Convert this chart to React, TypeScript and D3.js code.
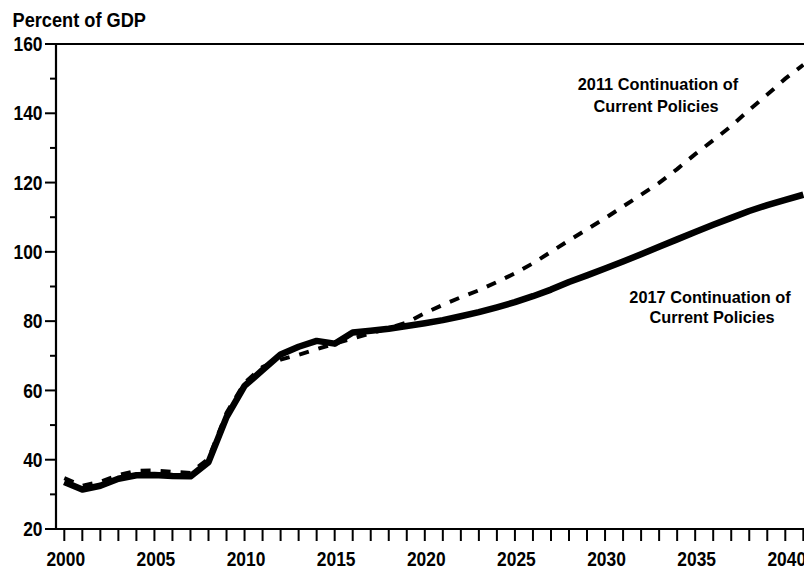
import React from "react";
import * as d3 from "d3";

const years: number[] = d3.range(2000, 2042);

// 2017 Continuation of Current Policies (solid)
const policies2017: number[] = [
  33.6, 31.4, 32.5, 34.5, 35.5, 35.6, 35.3, 35.2, 39.3, 52.3,
  61.3, 65.9, 70.4, 72.6, 74.3, 73.5, 76.7, 77.2, 77.8, 78.6,
  79.4, 80.3, 81.4, 82.6, 84.0, 85.5, 87.2, 89.1, 91.3, 93.2,
  95.2, 97.2, 99.3, 101.5, 103.6, 105.7, 107.8, 109.8, 111.8, 113.5,
  115.0, 116.5,
];

// 2011 Continuation of Current Policies (dashed)
const policies2011: number[] = [
  34.7, 32.5, 33.6, 35.6, 36.8, 36.9, 36.5, 36.2, 40.3, 53.5,
  62.2, 66.8, 68.9, 70.3, 71.9, 73.5, 75.0, 76.5, 78.0, 79.6,
  82.3, 84.7, 86.9, 88.9, 91.3, 93.8, 96.7, 100.0, 103.3, 106.5,
  109.7, 113.1, 116.5, 119.9, 123.9, 128.2, 132.2, 136.3, 141.0, 145.4,
  150.0, 154.0,
];

const yMajorTicks: number[] = [20, 40, 60, 80, 100, 120, 140, 160];
const yMinorTicks: number[] = [30, 50, 70, 90, 110, 130, 150];
const xLabelTicks: number[] = [2000, 2005, 2010, 2015, 2020, 2025, 2030, 2035, 2040];
const xTicks: number[] = d3.range(2000, 2042);

const yAxisTitle = "Percent of GDP";
const label2011 = ["2011 Continuation of", "Current Policies"];
const label2017 = ["2017 Continuation of", "Current Policies"];

const W = 804;
const H = 571;
const FONT = "'Liberation Sans', Arial, sans-serif";

function NText(props: {
  x: number;
  y: number;
  sx: number;
  size: number;
  anchor?: string;
  children: React.ReactNode;
}) {
  const { x, y, sx, size, anchor, children } = props;
  return (
    <text
      transform={`translate(${x},${y}) scale(${sx},1)`}
      textAnchor={anchor || "start"}
      fontSize={size}
      fill="#000"
    >
      {children}
    </text>
  );
}

export default function App() {
  const x = d3.scaleLinear().domain([2000, 2040]).range([64.3, 785.3]);
  const y = d3.scaleLinear().domain([20, 160]).range([529, 44]);
  const left = 56;
  const top = y(160);
  const bottom = y(20);

  const line = d3
    .line<number>()
    .x((_, i) => x(years[i]))
    .y((d) => y(d));

  return (
    <svg
      width={W}
      height={H}
      viewBox={`0 0 ${W} ${H}`}
      style={{ position: "absolute", left: 0, top: 0, background: "#fff" }}
      fontFamily={FONT}
      fontWeight="bold"
    >
      <defs>
        <clipPath id="plot">
          <rect x={left} y={top - 4} width={W - left} height={bottom - top + 4} />
        </clipPath>
      </defs>

      {/* y axis title */}
      <NText x={12.5} y={26.5} sx={0.91} size={20}>
        {yAxisTitle}
      </NText>

      {/* frame */}
      <line x1={left} y1={top} x2={W} y2={top} stroke="#000" strokeWidth={2} />
      <line x1={left} y1={top - 1} x2={left} y2={bottom + 1} stroke="#000" strokeWidth={2.2} />
      <line x1={left} y1={bottom} x2={W} y2={bottom} stroke="#000" strokeWidth={2.2} />

      {/* y ticks */}
      {yMajorTicks.map((t) => (
        <g key={"ym" + t}>
          <line x1={45} x2={left} y1={y(t)} y2={y(t)} stroke="#000" strokeWidth={2} />
          <NText x={42.5} y={y(t) + 7.2} sx={0.87} size={20} anchor="end">
            {t}
          </NText>
        </g>
      ))}
      {yMinorTicks.map((t) => (
        <line key={"yn" + t} x1={50} x2={left} y1={y(t)} y2={y(t)} stroke="#000" strokeWidth={2} />
      ))}

      {/* x ticks */}
      {xTicks.map((t) => (
        <line key={"xt" + t} x1={x(t)} x2={x(t)} y1={bottom} y2={bottom + 12} stroke="#000" strokeWidth={2} />
      ))}
      {xLabelTicks.map((t) => (
        <NText key={"xl" + t} x={x(t) + 1.5} y={566} sx={0.87} size={20} anchor="middle">
          {t}
        </NText>
      ))}

      {/* series */}
      <g clipPath="url(#plot)">
        <path
          d={line(policies2011) || ""}
          fill="none"
          stroke="#000"
          strokeWidth={4}
          strokeDasharray="10 10"
          strokeLinecap="butt"
        />
        <path
          d={line(policies2017) || ""}
          fill="none"
          stroke="#000"
          strokeWidth={6.5}
          strokeLinejoin="round"
        />
      </g>

      {/* annotations */}
      <NText x={658} y={90} sx={0.96} size={17} anchor="middle">
        {label2011[0]}
      </NText>
      <NText x={656} y={111.7} sx={0.96} size={17} anchor="middle">
        {label2011[1]}
      </NText>
      <NText x={710} y={303} sx={0.96} size={17} anchor="middle">
        {label2017[0]}
      </NText>
      <NText x={712} y={322.5} sx={0.96} size={17} anchor="middle">
        {label2017[1]}
      </NText>
    </svg>
  );
}
